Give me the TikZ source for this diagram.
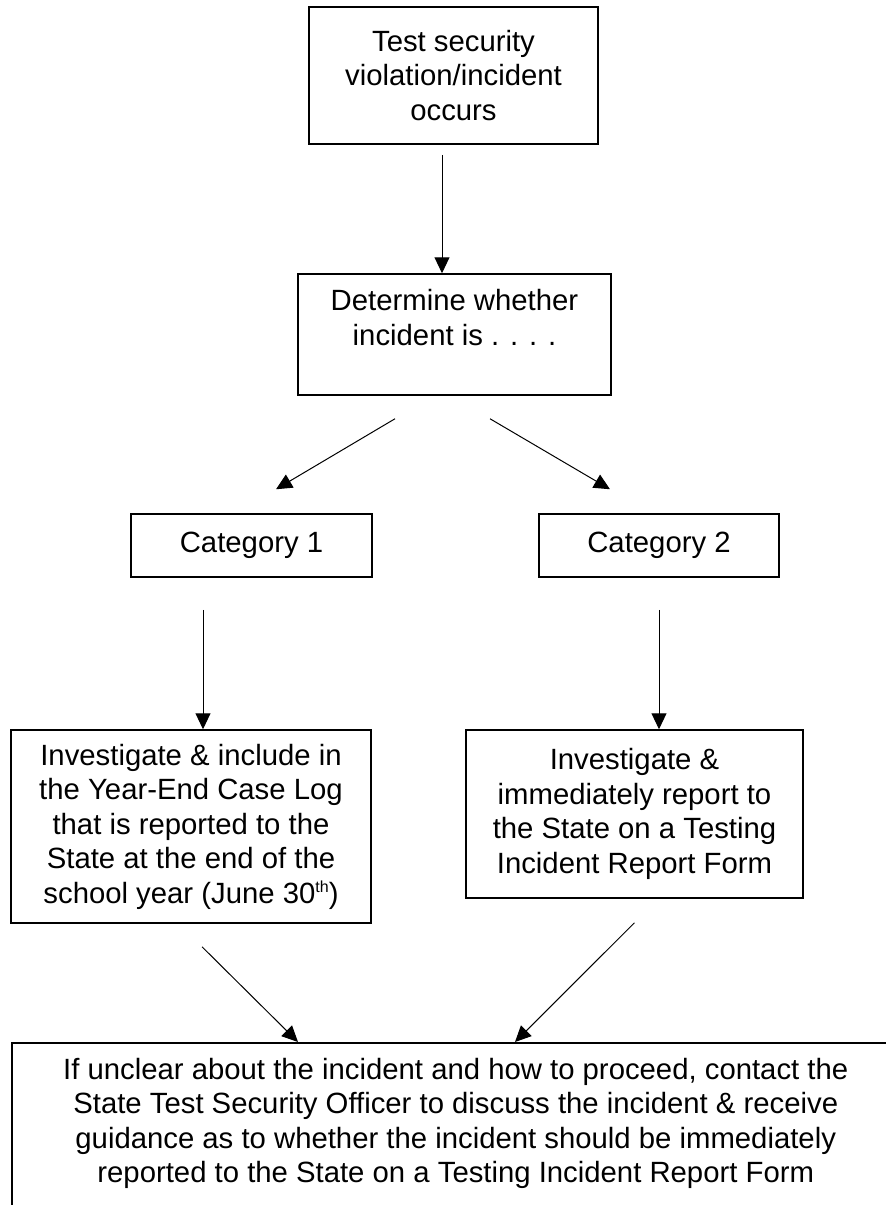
\documentclass[tikz,border=0pt]{standalone}
\usepackage{fontspec}
\setmainfont{Liberation Sans}
\usetikzlibrary{arrows.meta}
\usetikzlibrary{positioning}

\begin{document}
\begin{tikzpicture}[x=1pt, y=-1pt,
		flowbox/.style={draw, line width=1.5pt, align=center, inner sep=0pt,
			font=\fontsize{29.3}{34.5}\selectfont},
		flowarrow/.style={line width=1pt, -{Triangle[length=16pt, width=15pt]}}]
					\useasboundingbox (0,0) rectangle (886,1205);
					\clip (0,0) rectangle (886,1205);
					% Boxes
					\node[flowbox, minimum width=289pt, minimum height=137pt] (occur) at (453.5,75.5)
						{Test security\\violation/incident\\occurs};
					\node[flowbox, minimum width=313pt, minimum height=121pt] (determine) at (454.5,334.5)
						{Determine whether\\incident is . . . .\\\mbox{}};
					\node[flowbox, minimum width=241pt, minimum height=63pt] (cat1) at (251.5,545.5) {Category 1};
					\node[flowbox, minimum width=240pt, minimum height=63pt] (cat2) at (659,545.5) {Category 2};
					\node[flowbox, minimum width=360pt, minimum height=193pt] (caselog) at (191,826.5)
						{Investigate \& include in\\the Year-End Case Log\\that is reported to the\\State at the end of the\\school year (June 30\raisebox{11pt}{\fontsize{16}{16}\selectfont th})};
					\node[flowbox, minimum width=337pt, minimum height=168pt] (report) at (634.5,814)
						{Investigate \&\\immediately report to\\the State on a Testing\\Incident Report Form};
					\node[flowbox, anchor=north west, minimum width=888pt, inner ysep=15.5pt, text depth=220pt] (contact) at (11,1042)
						{If unclear about the incident and how to proceed, contact the\\State Test Security Officer to discuss the incident \& receive\\guidance as to whether the incident should be immediately\\reported to the State on a Testing Incident Report Form};
					% Arrows
					\draw[flowarrow] ([xshift=-11.5pt, yshift=-10pt]occur.south) -- ([xshift=-12.5pt]determine.north);
					\draw[flowarrow] ([xshift=-59.5pt, yshift=-23pt]determine.south) -- ([xshift=24.5pt, yshift=24pt]cat1.north);
					\draw[flowarrow] ([xshift=35.5pt, yshift=-23pt]determine.south) -- ([xshift=-49pt, yshift=24pt]cat2.north);
					\draw[flowarrow] ([xshift=-48.5pt, yshift=-32pt]cat1.south) -- ([xshift=12pt]caselog.north);
					\draw[flowarrow] ([yshift=-32pt]cat2.south) -- ([xshift=24.5pt]report.north);
					\draw[flowarrow] ([xshift=11pt, yshift=-23pt]caselog.south) -- ([xshift=287pt]contact.north west);
					\draw[flowarrow] ([yshift=-24pt]report.south) -- ([xshift=504pt]contact.north west);
				\end{tikzpicture}
\end{document}
